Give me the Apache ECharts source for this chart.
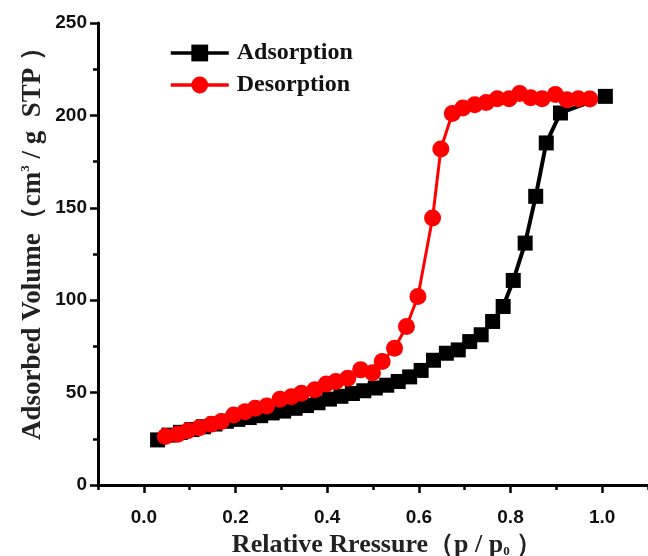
<!DOCTYPE html>
<html>
<head>
<meta charset="utf-8">
<script src="https://cdn.jsdelivr.net/npm/echarts@6/dist/echarts.min.js"></script>
<style>
html,body{margin:0;padding:0;background:#fff;}
#chart{width:648px;height:556px;}
</style>
</head>
<body>
<div id="chart"></div>
<script>
// ---- data ----
var adsX = [0.03,0.055,0.08,0.105,0.13,0.155,0.18,0.205,0.23,0.255,0.28,0.305,0.33,0.355,0.38,0.405,0.43,0.455,0.48,0.505,0.53,0.555,0.58,0.605,0.632,0.66,0.686,0.711,0.736,0.761,0.784,0.806,0.832,0.855,0.878,0.909,1.007];
var adsY = [24.4,27,28.5,30,31.5,33,34.5,35.5,36.5,37.5,39,40,41.5,43,44.5,46.5,48,49.5,51,52.5,54,56,58.5,62,67.5,71.3,73.1,77.6,81.3,88.5,96.6,110.7,130.9,156.2,185.1,201.3,210.3];
var desX = [0.047,0.074,0.096,0.121,0.147,0.169,0.196,0.221,0.243,0.268,0.297,0.322,0.344,0.373,0.398,0.419,0.445,0.473,0.499,0.52,0.547,0.573,0.598,0.630,0.648,0.673,0.696,0.722,0.747,0.771,0.797,0.82,0.844,0.869,0.898,0.923,0.948,0.973];
var desY = [26.2,27.5,29.3,31,32.9,34.3,37.9,39.7,41.5,42.8,46.4,47.8,49.7,51.5,54.7,56,57.8,62.3,60.8,66.8,74,85.8,102,144.5,181.8,201,204,205.8,207,209,209,211.8,209.5,209,211.3,208.5,209,208.9];
var xMajorTicks = [0,0.2,0.4,0.6,0.8,1.0];
var xMinorTicks = [-0.1,0.1,0.3,0.5,0.7,0.9,1.1];
var seriesNames = ['Adsorption','Desorption'];

function pairs(xs, ys){ var out=[]; for(var i=0;i<xs.length;i++){ out.push([xs[i], ys[i]]); } return out; }

var chart = echarts.init(document.getElementById('chart'), null, {renderer:'canvas'});
var serif = '"Liberation Serif","Times New Roman",serif';
var sans = '"Liberation Sans",Arial,sans-serif';

var option = {
  backgroundColor: '#ffffff',
  animation: false,
  grid: {left: 98, top: 23, right: -7, bottom: 71, containLabel: false},
  legend: {
    left: 164, top: 36, orient: 'vertical',
    itemWidth: 58, itemHeight: 21, itemGap: 8,
    data: seriesNames,
    lineStyle: {width: 3.5},
    textStyle: {fontFamily: serif, fontWeight: 'bold', fontSize: 24, color: '#111', padding: [0,0,0,3]}
  },
  xAxis: [{
    type: 'value', min: -0.1, max: 1.1, interval: 0.1,
    axisLine: {show: true, onZero: false, lineStyle: {color: '#000', width: 3}},
    axisTick: {show: true, inside: false, length: 8, lineStyle: {color: '#000', width: 2.5}, customValues: xMajorTicks},
    axisLabel: {show: true, margin: 23, customValues: xMajorTicks, formatter: function(v){ return v.toFixed(1); },
      fontFamily: sans, fontWeight: 'bold', fontSize: 19, color: '#111'},
    splitLine: {show: false}
  }, {
    type: 'value', min: -0.1, max: 1.1, interval: 0.1, position: 'bottom', gridIndex: 0,
    axisLine: {show: false, onZero: false},
    axisTick: {show: true, inside: false, length: 5, lineStyle: {color: '#000', width: 2.5}, customValues: xMinorTicks},
    axisLabel: {show: false},
    splitLine: {show: false}
  }],
  yAxis: {
    type: 'value', min: 0, max: 250, interval: 50,
    axisLine: {show: true, onZero: false, lineStyle: {color: '#000', width: 3}},
    axisTick: {show: true, inside: false, length: 8, lineStyle: {color: '#000', width: 2.5}},
    minorTick: {show: true, splitNumber: 2, length: 5, lineStyle: {color: '#000', width: 2.5}},
    axisLabel: {margin: 11, fontFamily: sans, fontWeight: 'bold', fontSize: 19, color: '#111'},
    splitLine: {show: false}
  },
  series: [{
    name: seriesNames[0], type: 'line', xAxisIndex: 0,
    data: pairs(adsX, adsY),
    symbol: 'rect', symbolSize: 15,
    itemStyle: {color: '#000'},
    lineStyle: {color: '#000', width: 4},
    z: 2
  }, {
    name: seriesNames[1], type: 'line', xAxisIndex: 0,
    data: pairs(desX, desY),
    symbol: 'circle', symbolSize: 17,
    itemStyle: {color: '#ff0000'},
    lineStyle: {color: '#ff0000', width: 3},
    z: 3
  }],
  graphic: [{
    type: 'text', x: 33, y: 237, rotation: Math.PI / 2,
    style: {
      text: 'Adsorbed Volume（cm{sup|3} / g  STP ）',
      font: 'bold 27px ' + serif, fill: '#222', align: 'center', verticalAlign: 'middle',
      rich: {sup: {fontSize: 13, fontWeight: 'bold', fontFamily: serif, verticalAlign: 'top', fill: '#222'}}
    }
  }, {
    type: 'text', x: 387, y: 545,
    style: {
      text: 'Relative Rressure（p / p{sub|0} ）',
      font: 'bold 26px ' + serif, fill: '#222', align: 'center', verticalAlign: 'middle',
      rich: {sub: {fontSize: 13, fontWeight: 'bold', fontFamily: serif, verticalAlign: 'bottom', fill: '#222'}}
    }
  }]
};
chart.setOption(option);
</script>
</body>
</html>
